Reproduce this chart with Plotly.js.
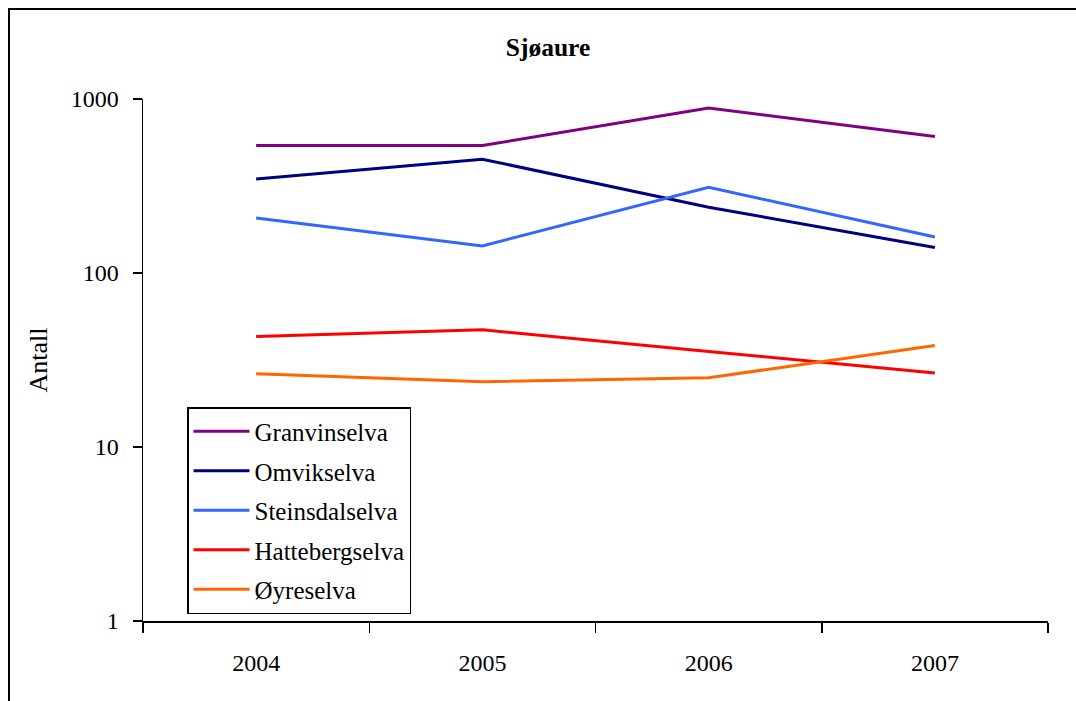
<!DOCTYPE html>
<html>
<head>
<meta charset="utf-8">
<script src="https://cdn.plot.ly/plotly-3.0.1.min.js"></script>
<style>
  html, body { margin: 0; padding: 0; background: #fff; }
  #wrap { position: relative; width: 1076px; height: 701px; overflow: hidden; }
  #chart { position: absolute; left: 0; top: 0; width: 1076px; height: 701px; }
  #frame { position: absolute; left: 8px; top: 8px; width: 2000px; height: 2000px;
           border-left: 2px solid #000; border-top: 2px solid #000; pointer-events: none; }
</style>
</head>
<body>
<div id="wrap">
  <div id="chart"></div>
  <div id="frame"></div>
</div>
<script>
const years = ["2004", "2005", "2006", "2007"];
const seriesNames = ["Granvinselva", "Omvikselva", "Steinsdalselva", "Hattebergselva", "Øyreselva"];
const granvinselva = [540, 540, 888, 608];
const omvikselva = [347, 451, 239, 140];
const steinsdalselva = [207, 143, 311, 161];
const hattebergselva = [43.2, 47.2, 35.4, 26.6];
const oyreselva = [26.4, 23.7, 25.0, 38.3];
const yTickVals = [1, 10, 100, 1000];
const yTickText = ["1", "10", "100", "1000"];
const colors = ["#800080", "#000080", "#3366FF", "#FF0000", "#FF6600"];

const allValues = [granvinselva, omvikselva, steinsdalselva, hattebergselva, oyreselva];
const FONT = "Liberation Serif, Times New Roman, serif";

const traces = allValues.map((vals, i) => ({
  x: years,
  y: vals,
  name: seriesNames[i],
  type: "scatter",
  mode: "lines",
  line: { color: colors[i], width: 3 },
  legendgroup: "g" + i
}));

const layout = {
  width: 1076,
  height: 701,
  margin: { l: 143, r: 28, t: 99, b: 80, pad: 0 },
  paper_bgcolor: "#fff",
  plot_bgcolor: "#fff",
  font: { family: FONT, size: 24, color: "#000" },
  title: {
    text: "<b>Sjøaure</b>",
    font: { family: FONT, size: 25.5, color: "#000" },
    x: 548 / 1076, xref: "container", xanchor: "center",
    y: 1 - 47 / 701, yref: "container", yanchor: "middle"
  },
  xaxis: {
    type: "category",
    range: [-0.5, 3.5],
    showgrid: false,
    zeroline: false,
    showline: true,
    linecolor: "#000",
    linewidth: 1.5,
    ticks: "outside",
    tickson: "boundaries",
    ticklen: 10,
    tickwidth: 1.5,
    tickcolor: "#000",
    tickfont: { family: FONT, size: 24, color: "#000" },
    ticklabelstandoff: 20
  },
  yaxis: {
    type: "log",
    range: [0, 3],
    showgrid: false,
    zeroline: false,
    showline: true,
    linecolor: "#000",
    linewidth: 1.5,
    ticks: "outside",
    ticklen: 9,
    tickwidth: 1.5,
    tickcolor: "#000",
    tickvals: yTickVals,
    ticktext: yTickText,
    tickfont: { family: FONT, size: 24, color: "#000" },
    ticklabelstandoff: 9,
    title: { text: "Antall", font: { family: FONT, size: 26, color: "#000" }, standoff: 15 }
  },
  showlegend: true,
  legend: {
    x: (187 - 143) / 905,
    y: (621 - 407) / 522,
    xanchor: "left",
    yanchor: "top",
    bgcolor: "#fff",
    bordercolor: "#000",
    borderwidth: 1.5,
    font: { family: FONT, size: 25, color: "#000" },
    traceorder: "grouped",
    tracegroupgap: 4,
    itemwidth: 56
  }
};

Plotly.newPlot("chart", traces, layout, { staticPlot: true, displayModeBar: false });
</script>
</body>
</html>
